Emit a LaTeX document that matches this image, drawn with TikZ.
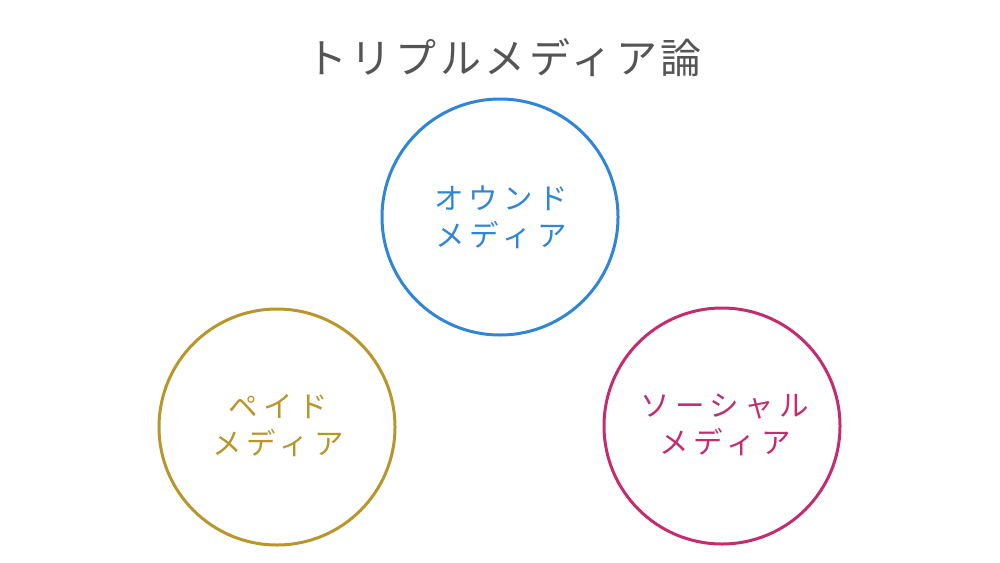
\documentclass[tikz,border=0pt]{standalone}
\usepackage{fontspec}
\newfontfamily\jpfont[LetterSpace=9]{Noto Sans CJK JP}
\newfontfamily\jpfontwide[LetterSpace=18]{Noto Sans CJK JP}
\definecolor{titlegray}{HTML}{555555}
\definecolor{ownedblue}{HTML}{2F86D6}
\definecolor{paidgold}{HTML}{B8962A}
\definecolor{socialmag}{HTML}{C42C70}
\begin{document}
\begin{tikzpicture}[x=1pt,y=-1pt,
  mediacircle/.style={circle, line width=3pt, minimum size=236pt, inner sep=0pt},
  mediatext/.style={font=\jpfontwide\fontsize{29.5}{37}\selectfont, align=center, inner sep=0pt},
  titletext/.style={font=\jpfont\fontsize{41}{48}\selectfont, text=titlegray, inner sep=0pt}]
\useasboundingbox (0,0) rectangle (1000,562);
\node[titletext] (title) at (504,58) {トリプルメディア論};
\node[mediacircle, draw=ownedblue] (owned) at (500,217) {};
\node[mediacircle, draw=paidgold] (paid) at (277,427) {};
\node[mediacircle, draw=socialmag] (social) at (722,426) {};
\node[mediatext, text=ownedblue] (ownedlabel) at (501,217) {オウンド\\メディア};
\node[mediatext, text=paidgold] (paidlabel) at (278,426) {ペイド\\メディア};
\node[mediatext, text=socialmag] (sociallabel) at (725,425) {ソーシャル\\メディア};
\end{tikzpicture}
\end{document}
